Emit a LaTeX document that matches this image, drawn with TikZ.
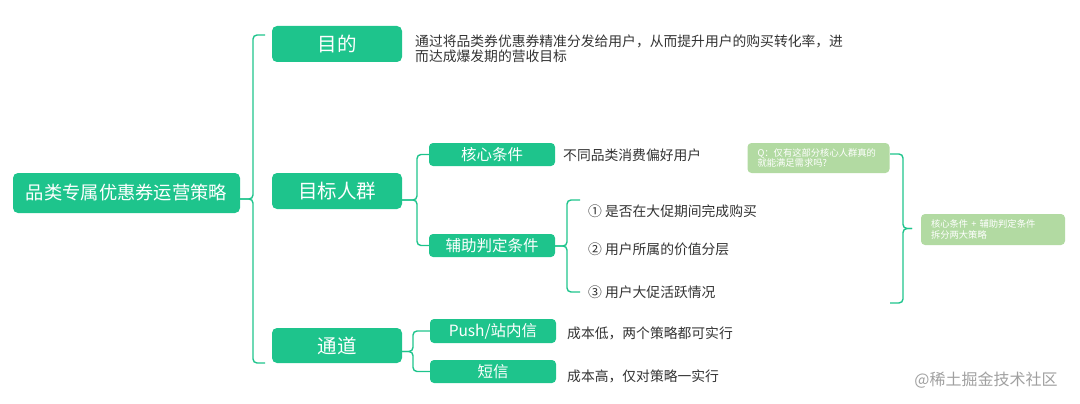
\documentclass[tikz,border=0pt]{standalone}
\usepackage{fontspec}
\setmainfont{Noto Sans CJK SC}
\usetikzlibrary{positioning}
\definecolor{zhulv}{RGB}{30,196,140}
\definecolor{qianlv}{RGB}{178,218,162}
\definecolor{wenzi}{RGB}{51,51,51}
\definecolor{shuiyin}{RGB}{160,160,160}
\begin{document}
\begin{tikzpicture}[x=1pt, y=-1pt,
    lian/.style={draw=zhulv, line width=1.4pt, rounded corners=4pt},
    dakuang/.style={fill=zhulv, text=white, rounded corners=5pt, inner sep=0pt,
      minimum width=130pt, minimum height=36pt, font=\fontsize{19.5}{22}\selectfont},
    xiaokuang/.style={fill=zhulv, text=white, rounded corners=4pt, inner sep=0pt,
      minimum width=126pt, minimum height=23pt, font=\fontsize{15.5}{18}\selectfont},
    shuoming/.style={anchor=west, inner sep=0pt, text=wenzi, align=left,
      font=\fontsize{13.8}{15}\selectfont},
    tishi/.style={fill=qianlv, text=white, rounded corners=4pt, inner xsep=10pt,
      inner ysep=0pt, align=left, font=\fontsize{9.3}{10.5}\selectfont}]
  \useasboundingbox (0,0) rectangle (1080,404);

  % 中心主题
  \node[dakuang, minimum width=227pt, minimum height=40pt, font=\fontsize{18.3}{22}\selectfont]
    (gen) at (126.5,193) {品类专属优惠券运营策略};

  % 一级分支
  \node[dakuang] (mudi) at (337,44) {目的};
  \node[dakuang] (renqun) at (337,191) {目标人群};
  \node[dakuang, minimum height=35pt] (tongdao) at (337,345.5) {通道};

  % 二级分支
  \node[xiaokuang] (hexin) at (492,154.5) {核心条件};
  \node[xiaokuang] (fuzhu) at (492,245.5) {辅助判定条件};
  \node[xiaokuang, minimum height=24pt] (push) at (493,331) {Push/站内信};
  \node[xiaokuang] (duanxin) at (493,371.5) {短信};

  % 说明文字
  \node[shuoming] (mudiwen) at (415,48.5)
    {通过将品类券优惠券精准分发给用户，从而提升用户的购买转化率，进\\而达成爆发期的营收目标};
  \node[shuoming] (hexinwen) at (563,155) {不同品类消费偏好用户};
  \node[shuoming] (tiao1) at (588,211) {① 是否在大促期间完成购买};
  \node[shuoming] (tiao2) at (588,249) {② 用户所属的价值分层};
  \node[shuoming] (tiao3) at (588,292) {③ 用户大促活跃情况};
  \node[shuoming] (pushwen) at (567,333) {成本低，两个策略都可实行};
  \node[shuoming] (duanxinwen) at (567,376) {成本高，仅对策略一实行};

  % 提示框
  \node[tishi, text width=122pt, minimum height=30pt] (wen) at (818.5,158)
    {Q：仅有这部分核心人群真的\\就能满足需求吗?};
  \node[tishi, text width=124pt, minimum height=31pt] (jielun) at (993,229.5)
    {核心条件 + 辅助判定条件\\拆分两大策略};

  % 连线：中心主题
  \coordinate (j1) at (253,199);
  \coordinate (d1) at (265,35);
  \coordinate (d3) at (265,363);
  \draw[lian] (gen.east |- j1) -- (j1) |- (d1);
  \draw[lian] (gen.east |- j1) -- (j1) |- (d3);

  % 连线：目标人群
  \coordinate (j2) at (417,200);
  \draw[lian] (renqun.east |- j2) -- (j2) |- (hexin.west);
  \draw[lian] (renqun.east |- j2) -- (j2) |- (fuzhu.west);

  % 连线：辅助判定条件
  \coordinate (j3) at (567,246);
  \coordinate (t1) at (580,200);
  \coordinate (t3) at (580,292);
  \draw[lian] (fuzhu.east |- j3) -- (j3) |- (t1);
  \draw[lian] (fuzhu.east |- j3) -- (j3) |- (t3);

  % 连线：通道
  \coordinate (j4) at (413,351.5);
  \draw[lian] (tongdao.east |- j4) -- (j4) |- (push.west);
  \draw[lian] (tongdao.east |- j4) -- (j4) |- (duanxin.west);

  % 连线：提示括号
  \coordinate (k1) at (890,154);
  \coordinate (k2) at (890,303);
  \coordinate (j5) at (903,228.5);
  \coordinate (jian) at (912,228.5);
  \draw[lian] (k1) -| (j5) -- (jian);
  \draw[lian] (k2) -| (j5) -- (jian);

  % 水印
  \node[text=shuiyin, inner sep=0pt, font=\fontsize{16}{18}\selectfont] (laiyuan) at (986,380)
    {@稀土掘金技术社区};
\end{tikzpicture}
\end{document}
